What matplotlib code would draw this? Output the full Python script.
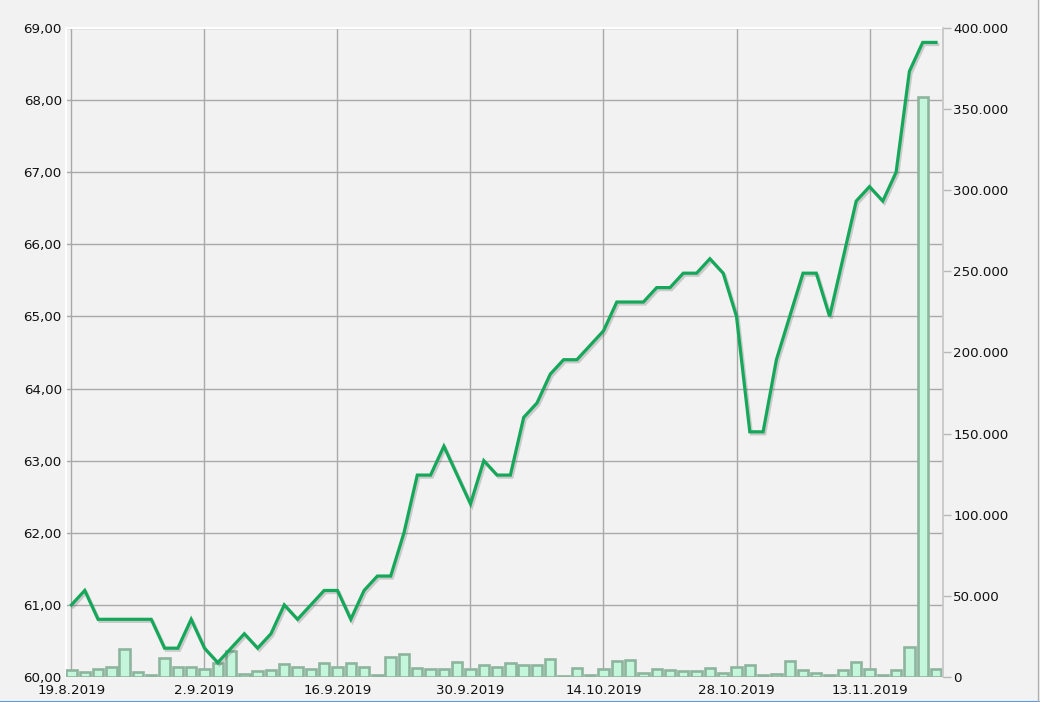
import matplotlib
matplotlib.use("Agg")
import matplotlib.pyplot as plt
import matplotlib.patheffects as pe
from matplotlib.ticker import FuncFormatter, FixedLocator
from matplotlib.lines import Line2D

# ---- data ----
price = [61.0, 61.2, 60.8, 60.8, 60.8, 60.8, 60.8, 60.4, 60.4, 60.8,
         60.4, 60.2, 60.4, 60.6, 60.4, 60.6, 61.0, 60.8, 61.0, 61.2,
         61.2, 60.8, 61.2, 61.4, 61.4, 62.0, 62.8, 62.8, 63.2, 62.8,
         62.4, 63.0, 62.8, 62.8, 63.6, 63.8, 64.2, 64.4, 64.4, 64.6,
         64.8, 65.2, 65.2, 65.2, 65.4, 65.4, 65.6, 65.6, 65.8, 65.6,
         65.0, 63.4, 63.4, 64.4, 65.0, 65.6, 65.6, 65.0, 65.8, 66.6,
         66.8, 66.6, 67.0, 68.4, 68.8, 68.8]
volume = [4300, 2900, 4700, 6000, 17100, 2900, 1200, 11500, 6400, 6400,
          4700, 8400, 16300, 1600, 3700, 4300, 8000, 6000, 5200, 8400,
          6000, 8400, 6000, 1500, 12200, 14000, 5300, 5000, 5000, 9500,
          5000, 7400, 6000, 8400, 7400, 7400, 11100, 600, 5300, 1200,
          4700, 9900, 10500, 2700, 5000, 4300, 3700, 3700, 5300, 2300,
          6000, 7400, 1200, 1900, 10100, 4300, 2300, 1200, 4300, 9100,
          5000, 1200, 4300, 18700, 357500, 4700]
tick_pos = [0, 10, 20, 30, 40, 50, 60]
tick_labels = ["19.8.2019", "2.9.2019", "16.9.2019", "30.9.2019",
               "14.10.2019", "28.10.2019", "13.11.2019"]
left_ticks = [60, 61, 62, 63, 64, 65, 66, 67, 68, 69]
right_ticks = [0, 50000, 100000, 150000, 200000, 250000, 300000, 350000, 400000]

idx = list(range(len(price)))

BG = "#f2f2f2"
plt.rcParams["font.family"] = ["DejaVu Sans"]

fig = plt.figure(figsize=(10.4, 7.02), dpi=100, facecolor=BG)
rect = [66 / 1040, 25 / 702, 876 / 1040, 649 / 702]
xlim = (-0.41, 65.45)

# base axes: left scale, grid
ax1 = fig.add_axes(rect, facecolor=BG, zorder=1)
ax1.set_xlim(*xlim)
ax1.set_ylim(60, 69)
ax1.yaxis.set_major_locator(FixedLocator(left_ticks))
ax1.yaxis.set_major_formatter(FuncFormatter(lambda v, p: f"{v:.2f}".replace(".", ",")))
ax1.xaxis.set_major_locator(FixedLocator(tick_pos))
ax1.set_xticklabels(tick_labels)
ax1.grid(True, color="#a9a9a9", linewidth=1.0)
ax1.tick_params(axis="y", length=0, pad=3, labelsize=9.6, labelcolor="#111111")
ax1.tick_params(axis="x", length=0, pad=5, labelsize=9.6, labelcolor="#111111")
for s in ["top", "left"]:
    ax1.spines[s].set_color("white")
    ax1.spines[s].set_linewidth(1.5)
ax1.spines["bottom"].set_visible(False)
ax1.spines["right"].set_visible(False)

# volume bars on right scale
ax2 = ax1.twinx()
ax2.set_zorder(2)
ax2.patch.set_visible(False)
ax2.set_ylim(0, 400000)
ax2.yaxis.set_major_locator(FixedLocator(right_ticks))
ax2.yaxis.set_major_formatter(FuncFormatter(lambda v, p: f"{int(v):,}".replace(",", ".")))
ax2.bar(idx, volume, width=0.78, color="#c4f6dc", edgecolor="#8db59d", linewidth=1.9)
ax2.tick_params(axis="y", length=6, width=1, color="#b8b8b8", pad=1,
                labelsize=9.6, labelcolor="#111111")
for s in ["top", "left", "bottom"]:
    ax2.spines[s].set_visible(False)
ax2.spines["right"].set_color("#c4c4c4")
ax2.spines["right"].set_linewidth(1.2)
ax2.spines["right"].set_position(("outward", 1))

# price line on top
ax3 = fig.add_axes(rect, sharex=ax1, zorder=3)
ax3.patch.set_visible(False)
ax3.set_ylim(60, 69)
ax3.axis("off")
ax3.plot(idx, price, color="#16a85a", linewidth=2.3, solid_joinstyle="miter",
         path_effects=[pe.SimpleLineShadow(offset=(1.2, -1.5), shadow_color="#555555", alpha=0.25),
                       pe.Normal()])
ax1.set_xlim(*xlim)

# window frame lines
fig.add_artist(Line2D([0, 1], [0.5 / 702, 0.5 / 702], transform=fig.transFigure,
                      color="#5a9be0", linewidth=1.5))
fig.add_artist(Line2D([1037.5 / 1040, 1037.5 / 1040], [0, 1], transform=fig.transFigure,
                      color="#b0b0b0", linewidth=1.0))

fig.savefig("out.png", dpi=100, facecolor=BG)
